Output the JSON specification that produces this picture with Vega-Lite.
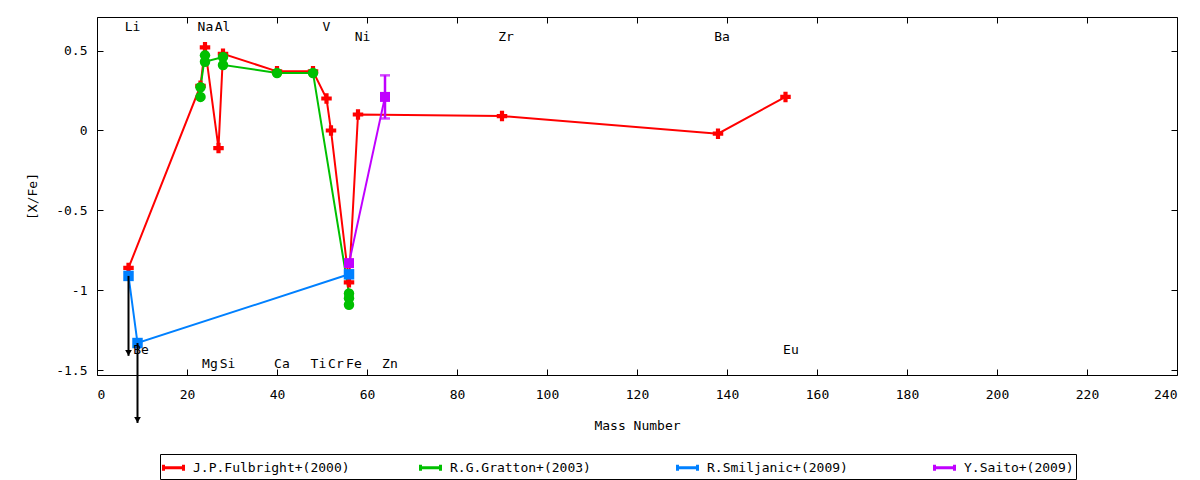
{
  "$schema": "https://vega.github.io/schema/vega-lite/v6.json",
  "autosize": {"type": "none"},
  "width": 1080,
  "height": 358,
  "padding": {"left": 97, "top": 17, "right": 23, "bottom": 105},
  "background": "white",
  "config": {
    "font": "DejaVu Sans Mono",
    "view": {"stroke": "black", "strokeWidth": 1},
    "axis": {
      "labelFont": "DejaVu Sans Mono",
      "titleFont": "DejaVu Sans Mono",
      "labelFontSize": 13,
      "titleFontSize": 13,
      "titleFontWeight": "normal",
      "labelColor": "black",
      "titleColor": "black",
      "domainColor": "black",
      "tickColor": "black",
      "grid": false,
      "domain": false,
      "tickSize": -6
    },
    "legend": {
      "labelFont": "DejaVu Sans Mono",
      "labelFontSize": 13,
      "labelColor": "black"
    }
  },
  "datasets": {
    "obs": [
      {"series": "J.P.Fulbright+(2000)", "i": 1, "el": "Li", "mass": 7, "val": -0.86},
      {"series": "J.P.Fulbright+(2000)", "i": 2, "el": "Na", "mass": 23, "val": 0.28},
      {"series": "J.P.Fulbright+(2000)", "i": 3, "el": "Mg", "mass": 24, "val": 0.52},
      {"series": "J.P.Fulbright+(2000)", "i": 4, "el": "Al", "mass": 27, "val": -0.11},
      {"series": "J.P.Fulbright+(2000)", "i": 5, "el": "Si", "mass": 28, "val": 0.48},
      {"series": "J.P.Fulbright+(2000)", "i": 6, "el": "Ca", "mass": 40, "val": 0.37},
      {"series": "J.P.Fulbright+(2000)", "i": 7, "el": "Ti", "mass": 48, "val": 0.37},
      {"series": "J.P.Fulbright+(2000)", "i": 8, "el": "V", "mass": 51, "val": 0.2},
      {"series": "J.P.Fulbright+(2000)", "i": 9, "el": "Cr", "mass": 52, "val": 0.0},
      {"series": "J.P.Fulbright+(2000)", "i": 10, "el": "Fe", "mass": 56, "val": -0.95},
      {"series": "J.P.Fulbright+(2000)", "i": 11, "el": "Ni", "mass": 58, "val": 0.1},
      {"series": "J.P.Fulbright+(2000)", "i": 12, "el": "Zr", "mass": 90, "val": 0.09},
      {"series": "J.P.Fulbright+(2000)", "i": 13, "el": "Ba", "mass": 138, "val": -0.02},
      {"series": "J.P.Fulbright+(2000)", "i": 14, "el": "Eu", "mass": 153, "val": 0.21},
      {"series": "R.G.Gratton+(2003)", "i": 1, "el": "Na", "mass": 23, "val": 0.21},
      {"series": "R.G.Gratton+(2003)", "i": 2, "el": "Na", "mass": 23, "val": 0.27},
      {"series": "R.G.Gratton+(2003)", "i": 3, "el": "Mg", "mass": 24, "val": 0.47},
      {"series": "R.G.Gratton+(2003)", "i": 4, "el": "Mg", "mass": 24, "val": 0.43},
      {"series": "R.G.Gratton+(2003)", "i": 5, "el": "Si", "mass": 28, "val": 0.46},
      {"series": "R.G.Gratton+(2003)", "i": 6, "el": "Si", "mass": 28, "val": 0.41},
      {"series": "R.G.Gratton+(2003)", "i": 7, "el": "Ca", "mass": 40, "val": 0.36},
      {"series": "R.G.Gratton+(2003)", "i": 8, "el": "Ti", "mass": 48, "val": 0.36},
      {"series": "R.G.Gratton+(2003)", "i": 9, "el": "Fe", "mass": 56, "val": -1.02},
      {"series": "R.G.Gratton+(2003)", "i": 10, "el": "Fe", "mass": 56, "val": -1.05},
      {"series": "R.G.Gratton+(2003)", "i": 11, "el": "Fe", "mass": 56, "val": -1.09},
      {"series": "R.Smiljanic+(2009)", "i": 1, "el": "Li", "mass": 7, "val": -0.91},
      {"series": "R.Smiljanic+(2009)", "i": 2, "el": "Be", "mass": 9, "val": -1.33},
      {"series": "R.Smiljanic+(2009)", "i": 3, "el": "Fe", "mass": 56, "val": -0.9},
      {"series": "Y.Saito+(2009)", "i": 1, "el": "Fe", "mass": 56, "val": -0.83},
      {"series": "Y.Saito+(2009)", "i": 2, "el": "Zn", "mass": 64, "val": 0.21}
    ],
    "errs": [
      {"series": "Y.Saito+(2009)", "el": "Zn", "mass": 64, "lo": 0.075, "hi": 0.345}
    ],
    "limits": [
      {"el": "Li", "mass": 7, "from": -0.91, "to": -1.41},
      {"el": "Be", "mass": 9, "from": -1.33, "to": -1.83}
    ],
    "labels": [
      {"label": "Li", "x": 7.9, "y": 0.645},
      {"label": "Na", "x": 24.1, "y": 0.645},
      {"label": "Al", "x": 27.9, "y": 0.645},
      {"label": "V", "x": 51.0, "y": 0.645},
      {"label": "Ni", "x": 59.0, "y": 0.585},
      {"label": "Zr", "x": 90.9, "y": 0.585},
      {"label": "Ba", "x": 138.9, "y": 0.585},
      {"label": "Be", "x": 9.8, "y": -1.374},
      {"label": "Eu", "x": 154.2, "y": -1.374},
      {"label": "Mg", "x": 25.1, "y": -1.459},
      {"label": "Si", "x": 29.0, "y": -1.459},
      {"label": "Ca", "x": 41.1, "y": -1.459},
      {"label": "Ti", "x": 49.2, "y": -1.459},
      {"label": "Cr", "x": 53.1, "y": -1.459},
      {"label": "Fe", "x": 57.1, "y": -1.459},
      {"label": "Zn", "x": 65.1, "y": -1.459}
    ]
  },
  "layer": [
    {
      "data": {"name": "obs"},
      "mark": {"type": "line", "strokeWidth": 2},
      "encoding": {
        "x": {
          "field": "mass", "type": "quantitative",
          "scale": {"domain": [0, 240], "nice": false, "zero": false},
          "axis": {"values": [0, 20, 40, 60, 80, 100, 120, 140, 160, 180, 200, 220, 240], "title": "Mass Number", "labelPadding": 19, "titlePadding": 18}
        },
        "y": {
          "field": "val", "type": "quantitative",
          "scale": {"domain": [-1.53, 0.71], "nice": false, "zero": false},
          "axis": {"values": [-1.5, -1, -0.5, 0, 0.5], "title": "[X/Fe]", "labelExpr": "'' + datum.value", "labelPadding": 16, "titlePadding": 16}
        },
        "stroke": {
          "field": "series", "type": "nominal",
          "scale": {
            "domain": ["J.P.Fulbright+(2000)", "R.G.Gratton+(2003)", "R.Smiljanic+(2009)", "Y.Saito+(2009)"],
            "range": ["#ff0000", "#00c000", "#0080ff", "#c000ff"]
          },
          "legend": {
            "title": null,
            "orient": "none",
            "legendX": 63,
            "legendY": 437,
            "direction": "horizontal",
            "columns": 4,
            "symbolType": "M-1,0H1M-1,-0.3V0.3M1,-0.3V0.3",
            "symbolSize": 400,
            "symbolStrokeWidth": 3,
            "strokeColor": "black",
            "padding": 2,
            "columnPadding": 64,
            "gridAlign": "all",
            "labelLimit": 400,
            "labelOffset": 8
          }
        },
        "order": {"field": "i", "type": "quantitative"}
      }
    },
    {
      "data": {"name": "obs"},
      "transform": [{"filter": "datum.series === 'J.P.Fulbright+(2000)'"}],
      "mark": {"type": "point", "shape": "cross", "filled": true, "opacity": 1, "strokeWidth": 0, "size": 110, "color": "#ff0000"},
      "encoding": {
        "x": {"field": "mass", "type": "quantitative", "axis": null},
        "y": {"field": "val", "type": "quantitative", "axis": null}
      }
    },
    {
      "data": {"name": "obs"},
      "transform": [{"filter": "datum.series === 'R.G.Gratton+(2003)'"}],
      "mark": {"type": "point", "shape": "circle", "filled": true, "opacity": 1, "strokeWidth": 0, "size": 110, "color": "#00c000"},
      "encoding": {
        "x": {"field": "mass", "type": "quantitative", "axis": null},
        "y": {"field": "val", "type": "quantitative", "axis": null}
      }
    },
    {
      "data": {"name": "obs"},
      "transform": [{"filter": "datum.series === 'R.Smiljanic+(2009)'"}],
      "mark": {"type": "point", "shape": "square", "filled": true, "opacity": 1, "strokeWidth": 0, "size": 110, "color": "#0080ff"},
      "encoding": {
        "x": {"field": "mass", "type": "quantitative", "axis": null},
        "y": {"field": "val", "type": "quantitative", "axis": null}
      }
    },
    {
      "data": {"name": "obs"},
      "transform": [{"filter": "datum.series === 'Y.Saito+(2009)'"}],
      "mark": {"type": "point", "shape": "square", "filled": true, "opacity": 1, "strokeWidth": 0, "size": 100, "color": "#c000ff"},
      "encoding": {
        "x": {"field": "mass", "type": "quantitative", "axis": null},
        "y": {"field": "val", "type": "quantitative", "axis": null}
      }
    },
    {
      "data": {"name": "errs"},
      "mark": {"type": "errorbar", "ticks": {"size": 10, "thickness": 2.5}, "rule": {"strokeWidth": 2.5}, "color": "#c000ff"},
      "encoding": {
        "x": {"field": "mass", "type": "quantitative", "axis": null},
        "y": {"field": "lo", "type": "quantitative", "axis": null},
        "y2": {"field": "hi"}
      }
    },
    {
      "data": {"name": "limits"},
      "mark": {"type": "rule", "color": "black", "strokeWidth": 2},
      "encoding": {
        "x": {"field": "mass", "type": "quantitative", "axis": null},
        "y": {"field": "from", "type": "quantitative", "axis": null},
        "y2": {"field": "to"}
      }
    },
    {
      "data": {"name": "limits"},
      "mark": {"type": "point", "shape": "triangle-down", "filled": true, "color": "black", "opacity": 1, "size": 45, "yOffset": -3},
      "encoding": {
        "x": {"field": "mass", "type": "quantitative", "axis": null},
        "y": {"field": "to", "type": "quantitative", "axis": null}
      }
    },
    {
      "data": {"name": "labels"},
      "mark": {"type": "text", "font": "DejaVu Sans Mono", "fontSize": 13, "color": "black", "baseline": "middle", "align": "center"},
      "encoding": {
        "x": {"field": "x", "type": "quantitative", "axis": {"orient": "top", "labels": false, "title": null, "values": [0, 20, 40, 60, 80, 100, 120, 140, 160, 180, 200, 220, 240]}},
        "y": {"field": "y", "type": "quantitative", "axis": {"orient": "right", "labels": false, "title": null, "values": [-1.5, -1, -0.5, 0, 0.5]}},
        "text": {"field": "label"}
      }
    }
  ],
  "resolve": {"axis": {"x": "independent", "y": "independent"}}
}
